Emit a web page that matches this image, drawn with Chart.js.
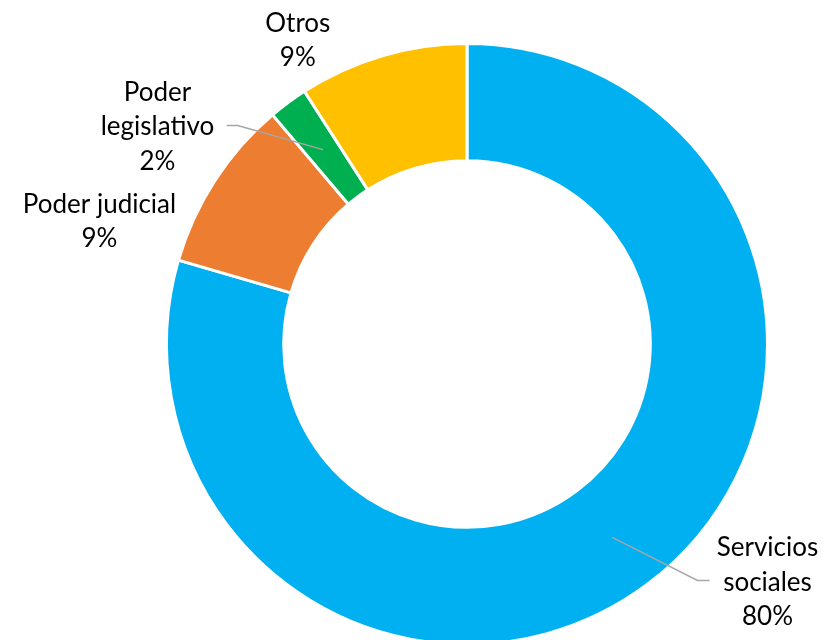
<!DOCTYPE html>
<html>
<head>
<meta charset="utf-8">
<script src="https://cdn.jsdelivr.net/npm/chart.js@4/dist/chart.umd.min.js"></script>
<style>
  html, body { margin: 0; padding: 0; background: #fff; overflow: hidden; }
  #wrap { width: 825px; height: 640px; overflow: hidden; }
</style>
</head>
<body>
<div id="wrap"><canvas id="myChart" width="825" height="660"></canvas></div>
<script>
const categories = ["Servicios sociales", "Poder judicial", "Poder legislativo", "Otros"];
const shares = [79.5, 9.3, 2.1, 9.1];
const labelLines = [["Servicios", "sociales"], ["Poder judicial"], ["Poder", "legislativo"], ["Otros"]];
const colors = ["#00B0F0", "#ED7D31", "#00B050", "#FFC000"];

// where each label block sits, in units of the outer radius from the centre
const labelSpots = [
  { dx: 1.0, dy: 0.793, leader: [[0.767, 0.787], [0.807, 0.787]] },
  { dx: -1.223, dy: -0.407 },
  { dx: -1.03, dy: -0.723, leader: [[-0.763, -0.727], [-0.8, -0.727]] },
  { dx: -0.563, dy: -1.01 },
];

const fontFamily = "Lato, 'Open Sans', sans-serif";
const lineH = 34.5;

const outsideLabels = {
  id: "outsideLabels",
  afterDatasetsDraw(chart) {
    const ctx = chart.ctx;
    const arcs = chart.getDatasetMeta(0).data;
    const total = shares.reduce((a, b) => a + b, 0);
    ctx.save();
    arcs.forEach((arc, i) => {
      const cx = arc.x, cy = arc.y, R = arc.outerRadius;
      const spot = labelSpots[i];
      if (spot.leader) {
        const mid = arc.tooltipPosition();
        ctx.beginPath();
        ctx.strokeStyle = "#A6A6A6";
        ctx.lineWidth = 1.5;
        ctx.moveTo(mid.x, mid.y);
        spot.leader.forEach(([lx, ly]) => ctx.lineTo(cx + lx * R, cy + ly * R));
        ctx.stroke();
      }
      const lines = [...labelLines[i], Math.round(shares[i] / total * 100) + "%"];
      const x = cx + spot.dx * R;
      const y0 = cy + spot.dy * R - (lines.length - 1) * lineH / 2;
      ctx.fillStyle = "#000";
      ctx.font = "26px " + fontFamily;
      ctx.textAlign = "center";
      ctx.textBaseline = "middle";
      lines.forEach((t, k) => ctx.fillText(t, x, y0 + k * lineH));
    });
    ctx.restore();
  },
};

const ctx = document.getElementById("myChart").getContext("2d");
const myChart = new Chart(ctx, {
  type: "doughnut",
  data: {
    labels: categories,
    datasets: [
      {
        data: shares,
        backgroundColor: colors,
        borderColor: "#fff",
        borderWidth: 3,
        hoverOffset: 0,
      },
    ],
  },
  options: {
    responsive: false,
    animation: false,
    cutout: "61%",
    layout: { padding: { left: 165, right: 56, top: 42, bottom: 14 } },
    plugins: {
      legend: { display: false },
      tooltip: { enabled: false },
    },
  },
  plugins: [outsideLabels],
});
</script>
</body>
</html>
